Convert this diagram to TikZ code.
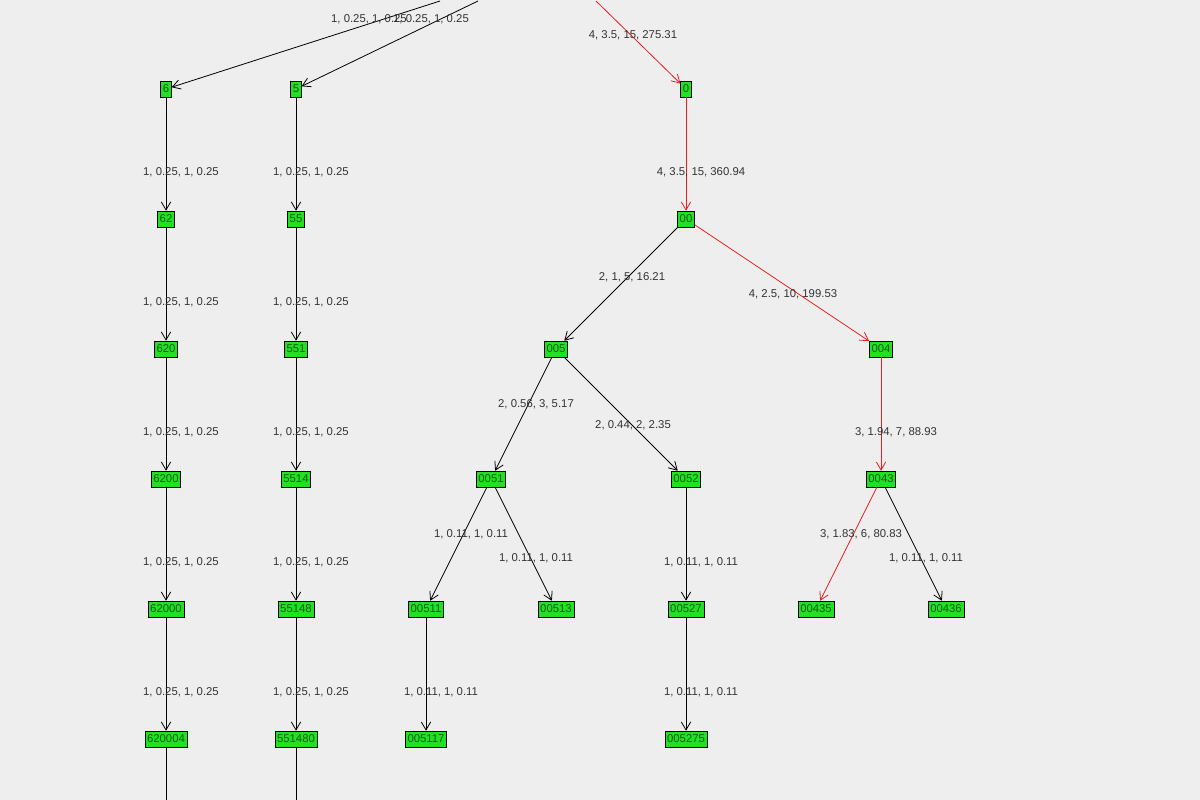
\documentclass[tikz,border=0pt]{standalone}
\usepackage{fontspec}
\setmainfont{Liberation Sans}
\usetikzlibrary{arrows.meta}
\definecolor{bg}{RGB}{238,238,238}
\definecolor{ng}{RGB}{34,225,34}
\definecolor{nt}{RGB}{20,90,20}
\definecolor{rd}{RGB}{230,30,30}
\tikzset{
  tn/.style={draw=black,fill=ng,text=nt,inner xsep=1.6pt,inner ysep=1.2pt,minimum height=12pt,font=\fontsize{8.5}{9}\selectfont},
  lb/.style={font=\fontsize{8.5}{9}\selectfont,text=black!80},
  ed/.style={draw=black,line width=0.6pt,-{Straight Barb[length=6pt,width=7pt]}},
  re/.style={draw=rd,line width=0.6pt,-{Straight Barb[length=6pt,width=7pt]}},
}
\begin{document}
\begin{tikzpicture}[x=0.75pt,y=-0.75pt]
\fill[bg] (0,0) rectangle (1200,800);
\useasboundingbox (0,0) rectangle (1200,800);
\begin{scope}[yshift=-0.75pt]
\coordinate (t6) at (440,0); \coordinate (t5) at (478,0); \coordinate (t0) at (596,0);
\coordinate (b6) at (166,802); \coordinate (b5) at (296,802);
\foreach \n/\x/\y in {6/166/88,62/166/218,620/166/348,6200/166/478,62000/166/608,620004/166/738,
 5/296/88,55/296/218,551/296/348,5514/296/478,55148/296/608,551480/296/738,
 0/686/88,00/686/218,005/556/348,004/881/348,0051/491/478,0052/686/478,0043/881/478,
 00511/426/608,00513/556/608,00527/686/608,00435/816/608,00436/946/608,005117/426/738,005275/686/738}
 \node[tn] (n\n) at (\x,\y) {\n};
\draw[ed] (t6) -- (n6);
\draw[ed] (t5) -- (n5);
\draw[re] (t0) -- (n0);
\foreach \a/\b in {6/62,62/620,620/6200,6200/62000,62000/620004,5/55,55/551,551/5514,5514/55148,55148/551480,
 00/005,005/0051,005/0052,0051/00511,0051/00513,0052/00527,0043/00436,00511/005117,00527/005275}
 \draw[ed] (n\a) -- (n\b);
\foreach \a/\b in {0/00,00/004,004/0043,0043/00435}
 \draw[re] (n\a) -- (n\b);
\draw[line width=0.6pt] (n620004) -- (b6);
\draw[line width=0.6pt] (n551480) -- (b5);
\node[lb] (l1) at (369,18) {1, 0.25, 1, 0.25};
\node[lb] (l2) at (431,18) {1, 0.25, 1, 0.25};
\node[lb] (l3) at (633,34) {4, 3.5, 15, 275.31};
\foreach \y in {171,301,431,561,691}{
 \node[lb] at (181,\y) {1, 0.25, 1, 0.25};
 \node[lb] at (311,\y) {1, 0.25, 1, 0.25};}
\node[lb] at (701,171) {4, 3.5, 15, 360.94};
\node[lb] at (632,276) {2, 1, 5, 16.21};
\node[lb] at (793,293) {4, 2.5, 10, 199.53};
\node[lb] at (536,403) {2, 0.56, 3, 5.17};
\node[lb] at (633,424) {2, 0.44, 2, 2.35};
\node[lb] at (896,431) {3, 1.94, 7, 88.93};
\node[lb] at (471,533) {1, 0.11, 1, 0.11};
\node[lb] at (536,557) {1, 0.11, 1, 0.11};
\node[lb] at (701,561) {1, 0.11, 1, 0.11};
\node[lb] at (861,533) {3, 1.83, 6, 80.83};
\node[lb] at (926,557) {1, 0.11, 1, 0.11};
\node[lb] at (441,691) {1, 0.11, 1, 0.11};
\node[lb] at (701,691) {1, 0.11, 1, 0.11};
\end{scope}
\end{tikzpicture}
\end{document}
